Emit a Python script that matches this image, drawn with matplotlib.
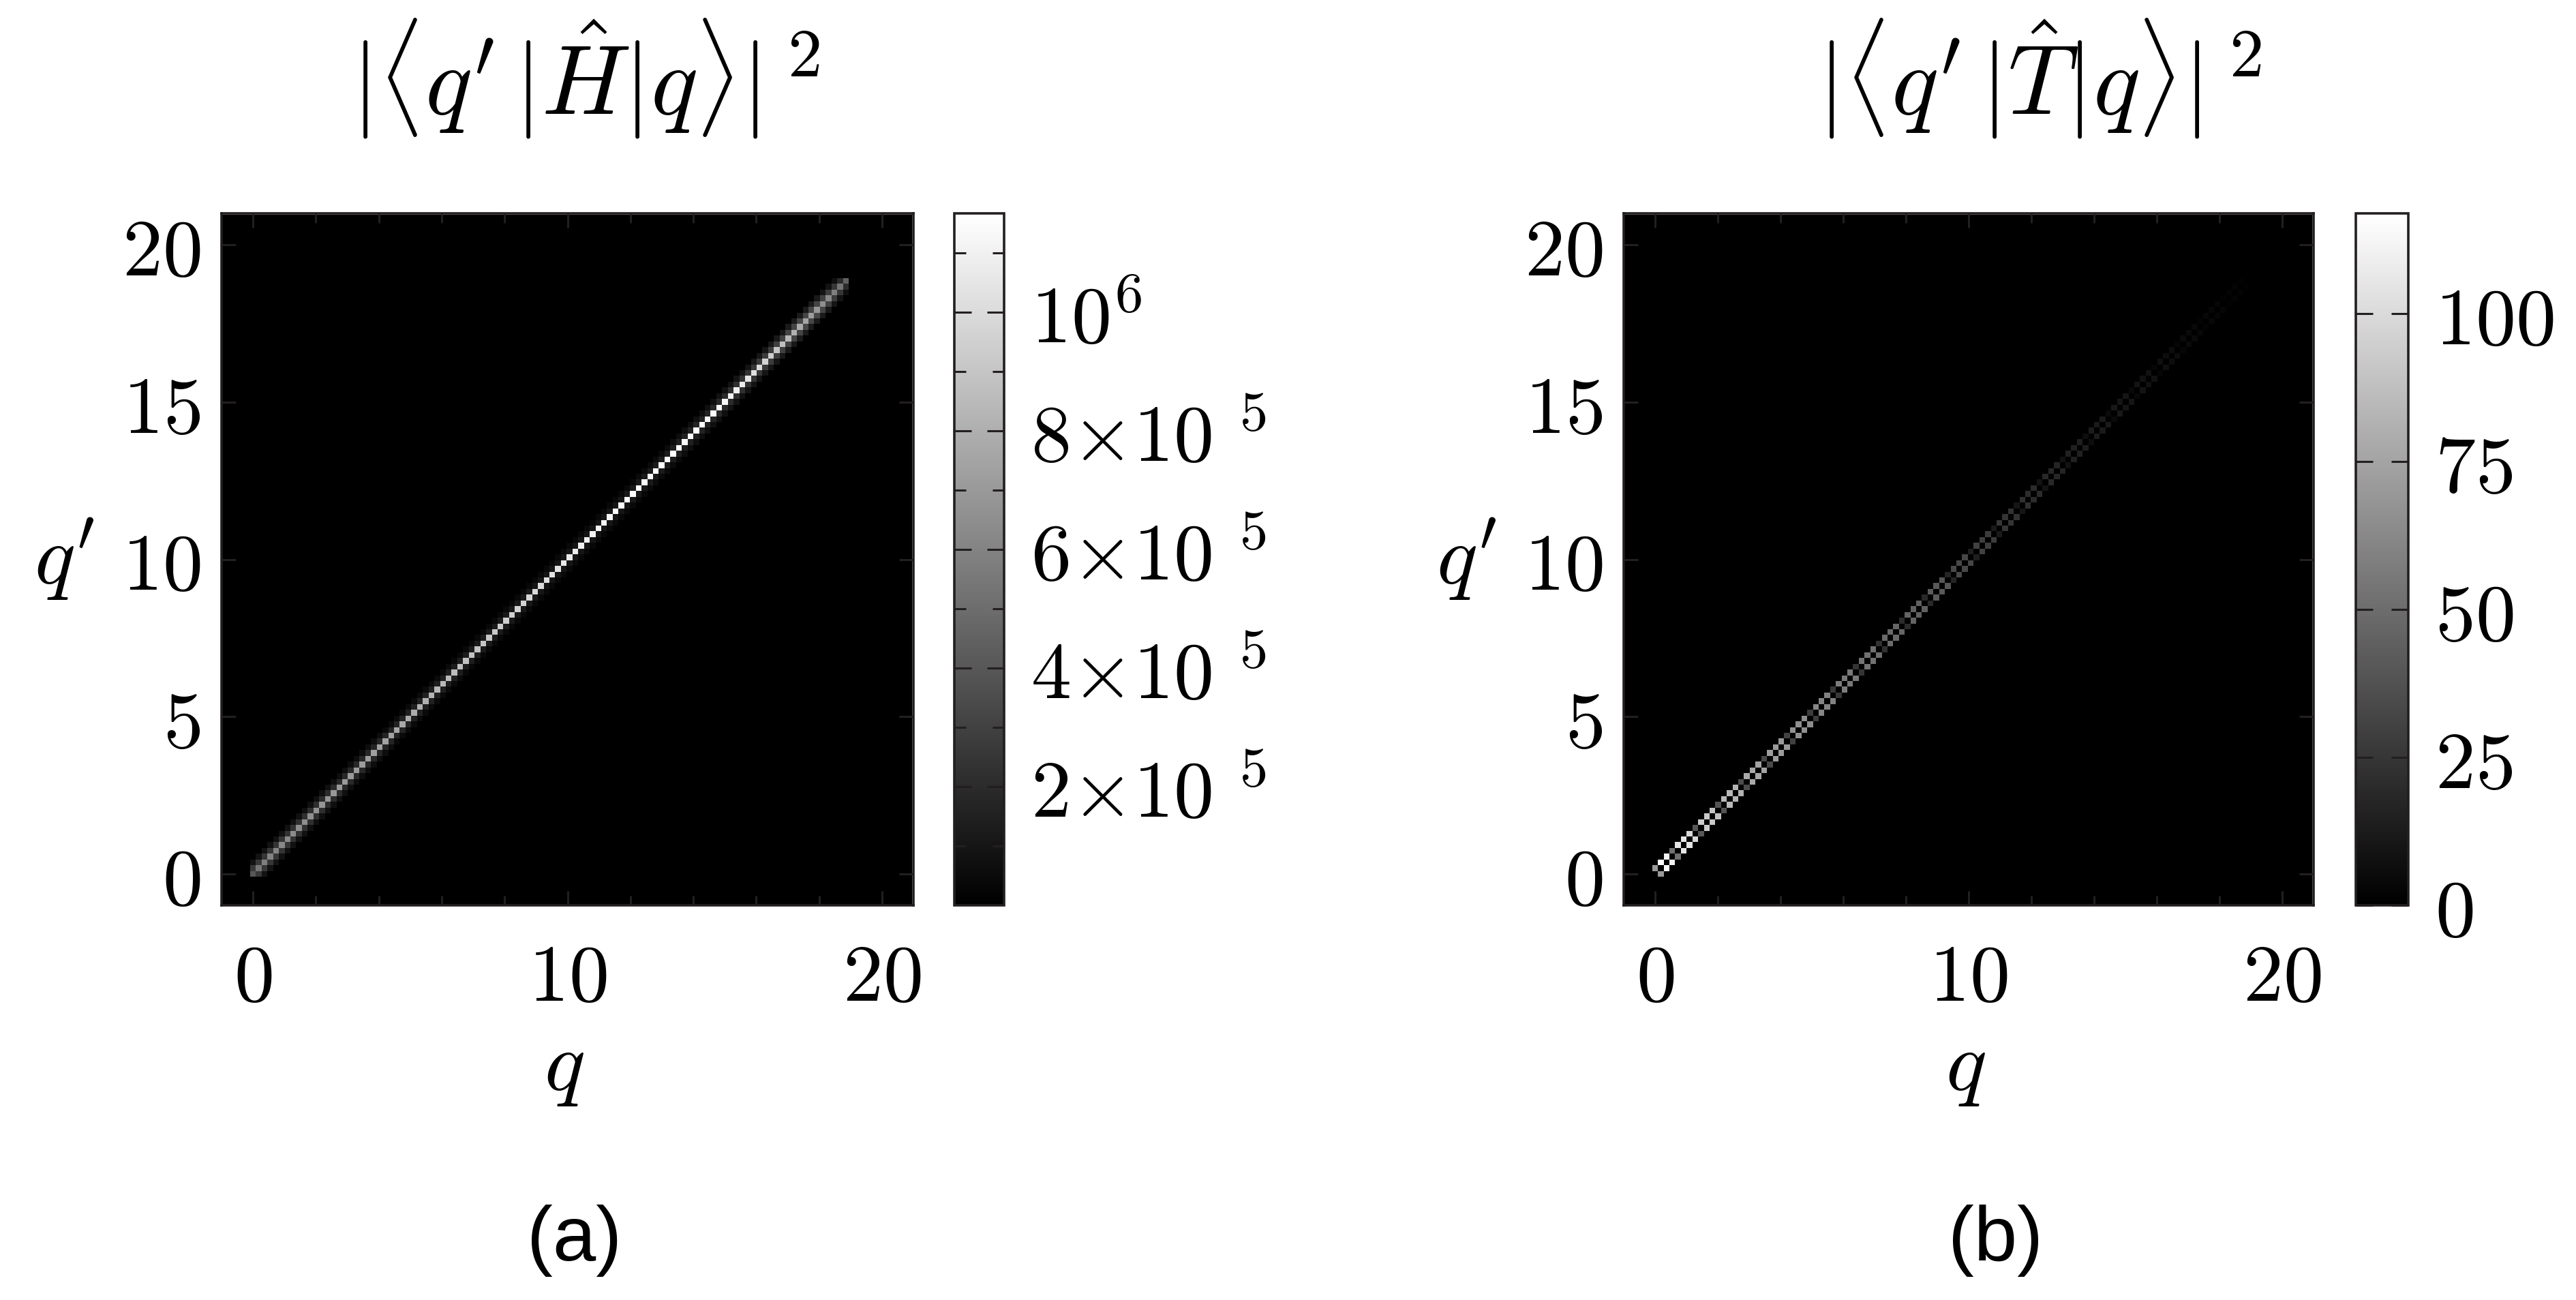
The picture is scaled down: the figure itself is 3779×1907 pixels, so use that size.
import numpy as np
import matplotlib.pyplot as plt
from matplotlib.ticker import FixedLocator

plt.rcParams['mathtext.fontset']='cm'

FRAME='#231f20' #culoarea ramei

#reteaua de puncte q (celule patrate)
dq=0.183
N_NEG=5 #celule sub q=0
N=120

#|<q'|H|q>|^2, diagonala (unitati de 1e5)
H_diag=[4.0,5.4,5.8,6.0,6.1,6.2,6.3,6.4,6.4,6.5,6.6,
        6.7,6.8,6.8,6.9,7.0,7.0,7.1,7.1,7.2,7.2,
        7.3,7.3,7.4,7.5,7.6,7.7,7.8,7.9,8.0,8.1,
        8.2,8.3,8.4,8.5,8.6,8.7,8.8,8.9,8.9,9.0,
        9.1,9.2,9.3,9.4,9.5,9.6,9.7,9.8,9.9,10.0,
        10.2,10.3,10.4,10.6,10.7,10.8,10.9,11.0,11.1,11.2,
        11.2,11.3,11.4,11.4,11.5,11.5,11.6,11.6,11.6,11.7,
        11.7,11.7,11.7,11.7,11.7,11.7,11.6,11.6,11.5,11.5,
        11.4,11.3,11.1,11.0,10.8,10.5,10.2,9.9,9.6,9.3,
        9.0,8.7,8.4,8.1,7.8,7.5,7.2,6.9,6.5,6.2,
        5.8,5.3,4.5]
#prima vecina a diagonalei (unitati de 1e5)
H_off1=[2.6,2.6,2.5,2.5,2.4,2.4,2.3,2.3,2.2,2.2,2.1,
        2.1,2.0,2.0,2.0,1.9,1.9,1.9,1.8,1.8,1.8,
        1.7,1.7,1.7,1.6,1.6,1.6,1.5,1.5,1.5,1.5,
        1.4,1.4,1.4,1.4,1.3,1.3,1.3,1.3,1.2,1.2,
        1.2,1.2,1.2,1.1,1.1,1.1,1.1,1.1,1.0,1.0,
        1.0,1.0,1.0,1.0,1.0,1.0,1.0,1.0,1.0,1.0,
        1.0,1.0,1.0,1.0,1.1,1.1,1.1,1.2,1.2,1.2,
        1.3,1.3,1.4,1.4,1.5,1.5,1.6,1.6,1.7,1.8,
        1.9,2.0,2.1,2.2,2.3,2.4,2.5,2.6,2.7,2.8,
        2.9,3.0,3.1,3.1,3.2,3.2,3.2,3.1,3.0,2.8,2.5,2.0]
#a doua vecina (unitati de 1e5)
H_off2=[0.9,0.9,0.9,0.8,0.8,0.8,0.8,0.8,0.7,0.7,
        0.7,0.7,0.7,0.7,0.7,0.6,0.6,0.6,0.6,0.6,
        0.6,0.6,0.6,0.5,0.5,0.5,0.5,0.5,0.5,0.5,
        0.5,0.5,0.5,0.5,0.5,0.4,0.4,0.4,0.4,0.4,
        0.4,0.4,0.4,0.4,0.4,0.4,0.4,0.4,0.4,0.4,
        0.4,0.4,0.4,0.4,0.4,0.4,0.4,0.4,0.4,0.4,
        0.4,0.4,0.4,0.4,0.4,0.4,0.4,0.5,0.5,0.5,
        0.5,0.5,0.5,0.6,0.6,0.6,0.6,0.7,0.7,0.7,
        0.7,0.8,0.8,0.8,0.9,0.9,0.9,1.0,1.0,1.0,
        1.1,1.1,1.1,1.2,1.2,1.2,1.2,1.2,1.1,1.0,0.9,0.7]

#|<q'|T|q>|^2, prima vecina a diagonalei (diagonala e ~0)
T_off1=[70,117,111,52,105,105,99,40,94,92,90,38,
        85,84,82,35,78,77,75,33,72,71,70,30,
        67,66,65,28,62,61,59,26,57,56,55,24,
        53,52,51,22,49,48,47,20,46,45,44,19,
        42,41,40,17,34,33,32,14,30,29,28,12,
        25,24,23,10,22,21,20,9,19,18,17,8,
        15,15,14,6,13,12,12,5,11,10,10,4,
        9,8,8,3,7,6,6,3,5,5,4,2,
        4,3,3,1,2,2,1]

H_MAX=1.167e6
T_MAX=117

H_ticks=[2e5,4e5,6e5,8e5,1e6]
H_ticklabels=[r'$2{\times}10^{\;\,5}$',r'$4{\times}10^{\;\,5}$',r'$6{\times}10^{\;\,5}$',
              r'$8{\times}10^{\;\,5}$',r'$10^6$']
H_minor=[1e5,3e5,5e5,7e5,9e5,1.1e6]
T_ticks=[0,25,50,75,100]
T_ticklabels=['$0$','$25$','$50$','$75$','$100$']


def put_band(M,vals,k,scale=1.0): #pune valorile pe diagonala k (simetric)
    for i,v in enumerate(vals):
        M[N_NEG+i,N_NEG+i+k]=v*scale
        M[N_NEG+i+k,N_NEG+i]=v*scale

H=np.zeros((N,N))
put_band(H,H_diag,0,1e5)
put_band(H,H_off1,1,1e5)
put_band(H,H_off2,2,1e5)

T=np.zeros((N,N))
put_band(T,T_off1,1)

lo=-N_NEG*dq-dq/2
hi=(N-N_NEG-1)*dq+dq/2

fig=plt.figure(figsize=(37.79,19.07),dpi=100)

def panel(rect,crect,M,vmax,cticks,clabels,cminor,title,tx,letter,lx):
    ax=fig.add_axes(rect)
    im=ax.imshow(M,origin='lower',cmap='gray',vmin=0,vmax=vmax,extent=[lo,hi,lo,hi],
                 interpolation='nearest',aspect='auto')
    ax.set_xlim(-1,21)
    ax.set_ylim(-1,21)
    ax.set_xticks([0,10,20])
    ax.set_xticklabels(['$0$','$10$','$20$'])
    ax.set_xticks([2,4,6,8,12,14,16,18],minor=True)
    ax.set_yticks([0,5,10,15,20])
    ax.set_yticklabels(['$0$','$5$','$10$','$15$','$20$'])
    ax.tick_params(which='both',direction='in',top=True,right=True,color=FRAME,width=2.2,labelsize=85)
    ax.tick_params(which='major',length=15)
    ax.tick_params(which='minor',length=10)
    ax.tick_params(axis='x',pad=36)
    ax.tick_params(axis='y',pad=22)
    for s in ax.spines.values():
        s.set_linewidth(2.6)
        s.set_color(FRAME)
    b=ax.get_position()
    fig.text(b.x0+b.width*0.495,b.y0-0.124,'$q$',fontsize=90,ha='center',va='center')
    fig.text(b.x0-0.061,b.y0+b.height*0.5,"$q'$",fontsize=90,ha='center',va='center')

    cax=fig.add_axes(crect)
    cb=fig.colorbar(im,cax=cax)
    cb.outline.set_linewidth(2.6)
    cb.outline.set_edgecolor(FRAME)
    cax.yaxis.set_major_locator(FixedLocator(cticks))
    cax.set_yticklabels(clabels)
    if cminor:
        cax.yaxis.set_minor_locator(FixedLocator(cminor))
    cax.tick_params(which='both',direction='in',left=True,right=True,labelleft=False,labelright=True,
                    color=FRAME,width=2.2,labelsize=85,pad=28)
    cax.tick_params(which='major',length=18)
    cax.tick_params(which='minor',length=12)

    fig.text(tx,1-115/1907,title,fontsize=104,ha='center',va='center')
    fig.text(lx,1-1820/1907,letter,fontsize=82,family='Liberation Sans',ha='center',va='center')
    return ax

panel([325/3779,1-1328/1907,1015/3779,1015/1907],[1400/3779,1-1328/1907,73/3779,1015/1907],
      H,H_MAX,H_ticks,H_ticklabels,H_minor,r"$|\langle q'\,|\hat{H}|q\rangle|\,^2$",859/3779,'(a)',843/3779)
panel([2382/3779,1-1328/1907,1012/3779,1015/1907],[3456/3779,1-1328/1907,77/3779,1015/1907],
      T,T_MAX,T_ticks,T_ticklabels,None,r"$|\langle q'\,|\hat{T}|q\rangle|\,^2$",2992/3779,'(b)',2928/3779)

fig.savefig('out.png',dpi=100)
